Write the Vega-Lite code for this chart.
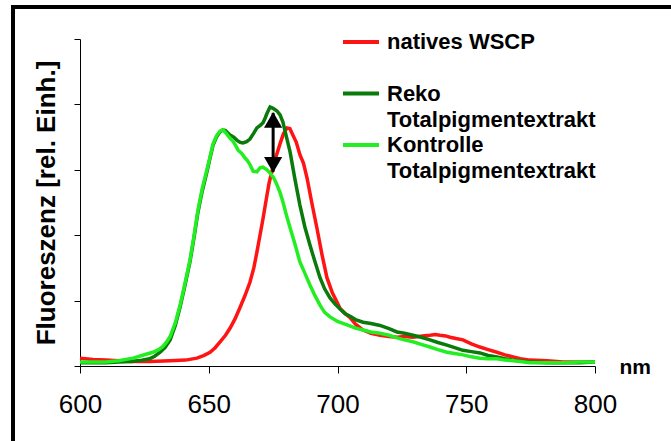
{
  "$schema": "https://vega.github.io/schema/vega-lite/v6.json",
  "width": 515,
  "height": 327,
  "autosize": {"type": "none"},
  "padding": {"left": 80, "top": 39, "right": 76, "bottom": 75},
  "background": "white",
  "config": {"view": {"stroke": null}, "font": "Liberation Sans", "style": {"guide-label": {"lineHeight": 26}}},
  "datasets": {
    "spectra": [
      {"s":"natives WSCP","nm":600,"v":0.12},{"s":"natives WSCP","nm":605,"v":0.10},{"s":"natives WSCP","nm":610,"v":0.09},{"s":"natives WSCP","nm":615,"v":0.08},{"s":"natives WSCP","nm":620,"v":0.07},{"s":"natives WSCP","nm":627,"v":0.07},{"s":"natives WSCP","nm":635,"v":0.08},{"s":"natives WSCP","nm":641,"v":0.09},{"s":"natives WSCP","nm":645.4,"v":0.12},{"s":"natives WSCP","nm":648,"v":0.16},{"s":"natives WSCP","nm":650.5,"v":0.21},{"s":"natives WSCP","nm":652.5,"v":0.28},{"s":"natives WSCP","nm":654.4,"v":0.37},{"s":"natives WSCP","nm":656.5,"v":0.47},{"s":"natives WSCP","nm":658.3,"v":0.58},{"s":"natives WSCP","nm":660.2,"v":0.72},{"s":"natives WSCP","nm":662.1,"v":0.89},{"s":"natives WSCP","nm":664,"v":1.07},{"s":"natives WSCP","nm":666,"v":1.28},{"s":"natives WSCP","nm":667.5,"v":1.50},{"s":"natives WSCP","nm":668.7,"v":1.74},{"s":"natives WSCP","nm":669.9,"v":2.00},{"s":"natives WSCP","nm":671.1,"v":2.26},{"s":"natives WSCP","nm":672.6,"v":2.61},{"s":"natives WSCP","nm":673.5,"v":2.81},{"s":"natives WSCP","nm":675,"v":3.05},{"s":"natives WSCP","nm":676.5,"v":3.25},{"s":"natives WSCP","nm":677.7,"v":3.40},{"s":"natives WSCP","nm":679,"v":3.55},{"s":"natives WSCP","nm":680.4,"v":3.64},{"s":"natives WSCP","nm":681.5,"v":3.63},{"s":"natives WSCP","nm":682.7,"v":3.53},{"s":"natives WSCP","nm":684,"v":3.42},{"s":"natives WSCP","nm":685.4,"v":3.23},{"s":"natives WSCP","nm":686.8,"v":3.10},{"s":"natives WSCP","nm":688.2,"v":2.87},{"s":"natives WSCP","nm":690,"v":2.50},{"s":"natives WSCP","nm":692,"v":2.11},{"s":"natives WSCP","nm":694,"v":1.70},{"s":"natives WSCP","nm":695.9,"v":1.35},{"s":"natives WSCP","nm":698,"v":1.12},{"s":"natives WSCP","nm":699.8,"v":0.98},{"s":"natives WSCP","nm":701,"v":0.88},{"s":"natives WSCP","nm":703,"v":0.80},{"s":"natives WSCP","nm":704.9,"v":0.74},{"s":"natives WSCP","nm":707,"v":0.64},{"s":"natives WSCP","nm":709.9,"v":0.55},{"s":"natives WSCP","nm":713,"v":0.50},{"s":"natives WSCP","nm":716.5,"v":0.47},{"s":"natives WSCP","nm":720,"v":0.45},{"s":"natives WSCP","nm":723.1,"v":0.44},{"s":"natives WSCP","nm":726,"v":0.45},{"s":"natives WSCP","nm":729.3,"v":0.44},{"s":"natives WSCP","nm":733,"v":0.46},{"s":"natives WSCP","nm":735.9,"v":0.47},{"s":"natives WSCP","nm":738,"v":0.48},{"s":"natives WSCP","nm":739.8,"v":0.47},{"s":"natives WSCP","nm":742,"v":0.46},{"s":"natives WSCP","nm":743.7,"v":0.44},{"s":"natives WSCP","nm":746,"v":0.42},{"s":"natives WSCP","nm":748.7,"v":0.40},{"s":"natives WSCP","nm":752,"v":0.34},{"s":"natives WSCP","nm":755.3,"v":0.29},{"s":"natives WSCP","nm":758.5,"v":0.25},{"s":"natives WSCP","nm":761.9,"v":0.21},{"s":"natives WSCP","nm":765,"v":0.17},{"s":"natives WSCP","nm":768.2,"v":0.14},{"s":"natives WSCP","nm":771,"v":0.11},{"s":"natives WSCP","nm":774.8,"v":0.09},{"s":"natives WSCP","nm":781.4,"v":0.08},{"s":"natives WSCP","nm":787.6,"v":0.06},{"s":"natives WSCP","nm":794,"v":0.06},{"s":"natives WSCP","nm":800,"v":0.06},
      {"s":"Reko Totalpigmentextrakt","nm":600,"v":0.05},{"s":"Reko Totalpigmentextrakt","nm":605,"v":0.05},{"s":"Reko Totalpigmentextrakt","nm":610,"v":0.05},{"s":"Reko Totalpigmentextrakt","nm":615,"v":0.06},{"s":"Reko Totalpigmentextrakt","nm":620,"v":0.07},{"s":"Reko Totalpigmentextrakt","nm":624,"v":0.09},{"s":"Reko Totalpigmentextrakt","nm":627,"v":0.11},{"s":"Reko Totalpigmentextrakt","nm":629,"v":0.15},{"s":"Reko Totalpigmentextrakt","nm":631.1,"v":0.21},{"s":"Reko Totalpigmentextrakt","nm":633,"v":0.28},{"s":"Reko Totalpigmentextrakt","nm":635,"v":0.40},{"s":"Reko Totalpigmentextrakt","nm":637,"v":0.62},{"s":"Reko Totalpigmentextrakt","nm":638.8,"v":0.89},{"s":"Reko Totalpigmentextrakt","nm":640.7,"v":1.22},{"s":"Reko Totalpigmentextrakt","nm":642.7,"v":1.59},{"s":"Reko Totalpigmentextrakt","nm":644.3,"v":1.97},{"s":"Reko Totalpigmentextrakt","nm":645.8,"v":2.35},{"s":"Reko Totalpigmentextrakt","nm":647.5,"v":2.68},{"s":"Reko Totalpigmentextrakt","nm":649.3,"v":2.97},{"s":"Reko Totalpigmentextrakt","nm":650.5,"v":3.18},{"s":"Reko Totalpigmentextrakt","nm":651.7,"v":3.38},{"s":"Reko Totalpigmentextrakt","nm":653,"v":3.50},{"s":"Reko Totalpigmentextrakt","nm":654.4,"v":3.58},{"s":"Reko Totalpigmentextrakt","nm":655.5,"v":3.61},{"s":"Reko Totalpigmentextrakt","nm":656.5,"v":3.60},{"s":"Reko Totalpigmentextrakt","nm":658.3,"v":3.53},{"s":"Reko Totalpigmentextrakt","nm":659.7,"v":3.50},{"s":"Reko Totalpigmentextrakt","nm":661,"v":3.45},{"s":"Reko Totalpigmentextrakt","nm":662.2,"v":3.42},{"s":"Reko Totalpigmentextrakt","nm":663.3,"v":3.41},{"s":"Reko Totalpigmentextrakt","nm":664.7,"v":3.43},{"s":"Reko Totalpigmentextrakt","nm":666,"v":3.47},{"s":"Reko Totalpigmentextrakt","nm":667.3,"v":3.55},{"s":"Reko Totalpigmentextrakt","nm":668.7,"v":3.64},{"s":"Reko Totalpigmentextrakt","nm":670,"v":3.68},{"s":"Reko Totalpigmentextrakt","nm":671.1,"v":3.72},{"s":"Reko Totalpigmentextrakt","nm":672,"v":3.80},{"s":"Reko Totalpigmentextrakt","nm":672.6,"v":3.86},{"s":"Reko Totalpigmentextrakt","nm":673.8,"v":3.96},{"s":"Reko Totalpigmentextrakt","nm":675,"v":3.94},{"s":"Reko Totalpigmentextrakt","nm":676.5,"v":3.90},{"s":"Reko Totalpigmentextrakt","nm":677.7,"v":3.84},{"s":"Reko Totalpigmentextrakt","nm":678.8,"v":3.73},{"s":"Reko Totalpigmentextrakt","nm":680.2,"v":3.50},{"s":"Reko Totalpigmentextrakt","nm":681.6,"v":3.27},{"s":"Reko Totalpigmentextrakt","nm":683.5,"v":2.85},{"s":"Reko Totalpigmentextrakt","nm":685.4,"v":2.46},{"s":"Reko Totalpigmentextrakt","nm":687.3,"v":2.13},{"s":"Reko Totalpigmentextrakt","nm":689.3,"v":1.85},{"s":"Reko Totalpigmentextrakt","nm":691.2,"v":1.60},{"s":"Reko Totalpigmentextrakt","nm":693.2,"v":1.35},{"s":"Reko Totalpigmentextrakt","nm":695,"v":1.18},{"s":"Reko Totalpigmentextrakt","nm":697.1,"v":1.04},{"s":"Reko Totalpigmentextrakt","nm":699,"v":0.95},{"s":"Reko Totalpigmentextrakt","nm":701,"v":0.87},{"s":"Reko Totalpigmentextrakt","nm":703,"v":0.80},{"s":"Reko Totalpigmentextrakt","nm":704.9,"v":0.76},{"s":"Reko Totalpigmentextrakt","nm":707,"v":0.71},{"s":"Reko Totalpigmentextrakt","nm":709.9,"v":0.67},{"s":"Reko Totalpigmentextrakt","nm":713,"v":0.65},{"s":"Reko Totalpigmentextrakt","nm":716.5,"v":0.62},{"s":"Reko Totalpigmentextrakt","nm":720,"v":0.57},{"s":"Reko Totalpigmentextrakt","nm":723.1,"v":0.52},{"s":"Reko Totalpigmentextrakt","nm":726,"v":0.50},{"s":"Reko Totalpigmentextrakt","nm":729.3,"v":0.47},{"s":"Reko Totalpigmentextrakt","nm":732.5,"v":0.44},{"s":"Reko Totalpigmentextrakt","nm":735.9,"v":0.40},{"s":"Reko Totalpigmentextrakt","nm":739,"v":0.36},{"s":"Reko Totalpigmentextrakt","nm":742.5,"v":0.32},{"s":"Reko Totalpigmentextrakt","nm":745.5,"v":0.28},{"s":"Reko Totalpigmentextrakt","nm":748.7,"v":0.24},{"s":"Reko Totalpigmentextrakt","nm":752,"v":0.22},{"s":"Reko Totalpigmentextrakt","nm":755.3,"v":0.20},{"s":"Reko Totalpigmentextrakt","nm":758.5,"v":0.16},{"s":"Reko Totalpigmentextrakt","nm":761.9,"v":0.14},{"s":"Reko Totalpigmentextrakt","nm":765,"v":0.11},{"s":"Reko Totalpigmentextrakt","nm":768.2,"v":0.09},{"s":"Reko Totalpigmentextrakt","nm":774.8,"v":0.06},{"s":"Reko Totalpigmentextrakt","nm":781.4,"v":0.05},{"s":"Reko Totalpigmentextrakt","nm":787.6,"v":0.05},{"s":"Reko Totalpigmentextrakt","nm":794,"v":0.05},{"s":"Reko Totalpigmentextrakt","nm":800,"v":0.06},
      {"s":"Kontrolle Totalpigmentextrakt","nm":600,"v":0.06},{"s":"Kontrolle Totalpigmentextrakt","nm":605,"v":0.06},{"s":"Kontrolle Totalpigmentextrakt","nm":610,"v":0.06},{"s":"Kontrolle Totalpigmentextrakt","nm":615,"v":0.08},{"s":"Kontrolle Totalpigmentextrakt","nm":620.6,"v":0.12},{"s":"Kontrolle Totalpigmentextrakt","nm":624,"v":0.16},{"s":"Kontrolle Totalpigmentextrakt","nm":628.3,"v":0.21},{"s":"Kontrolle Totalpigmentextrakt","nm":630.5,"v":0.25},{"s":"Kontrolle Totalpigmentextrakt","nm":632.2,"v":0.30},{"s":"Kontrolle Totalpigmentextrakt","nm":633.5,"v":0.36},{"s":"Kontrolle Totalpigmentextrakt","nm":635,"v":0.45},{"s":"Kontrolle Totalpigmentextrakt","nm":637,"v":0.66},{"s":"Kontrolle Totalpigmentextrakt","nm":638.8,"v":0.92},{"s":"Kontrolle Totalpigmentextrakt","nm":640.7,"v":1.25},{"s":"Kontrolle Totalpigmentextrakt","nm":642.7,"v":1.62},{"s":"Kontrolle Totalpigmentextrakt","nm":644.3,"v":2.00},{"s":"Kontrolle Totalpigmentextrakt","nm":645.8,"v":2.38},{"s":"Kontrolle Totalpigmentextrakt","nm":647.5,"v":2.72},{"s":"Kontrolle Totalpigmentextrakt","nm":649.3,"v":3.00},{"s":"Kontrolle Totalpigmentextrakt","nm":650.5,"v":3.20},{"s":"Kontrolle Totalpigmentextrakt","nm":651.7,"v":3.40},{"s":"Kontrolle Totalpigmentextrakt","nm":653,"v":3.52},{"s":"Kontrolle Totalpigmentextrakt","nm":654.4,"v":3.59},{"s":"Kontrolle Totalpigmentextrakt","nm":655.5,"v":3.61},{"s":"Kontrolle Totalpigmentextrakt","nm":656.5,"v":3.57},{"s":"Kontrolle Totalpigmentextrakt","nm":657.5,"v":3.52},{"s":"Kontrolle Totalpigmentextrakt","nm":658.3,"v":3.48},{"s":"Kontrolle Totalpigmentextrakt","nm":659.4,"v":3.44},{"s":"Kontrolle Totalpigmentextrakt","nm":660.3,"v":3.38},{"s":"Kontrolle Totalpigmentextrakt","nm":661.4,"v":3.30},{"s":"Kontrolle Totalpigmentextrakt","nm":662.8,"v":3.25},{"s":"Kontrolle Totalpigmentextrakt","nm":664.1,"v":3.18},{"s":"Kontrolle Totalpigmentextrakt","nm":665,"v":3.14},{"s":"Kontrolle Totalpigmentextrakt","nm":666,"v":3.08},{"s":"Kontrolle Totalpigmentextrakt","nm":667.2,"v":2.98},{"s":"Kontrolle Totalpigmentextrakt","nm":668.7,"v":2.97},{"s":"Kontrolle Totalpigmentextrakt","nm":669.9,"v":3.03},{"s":"Kontrolle Totalpigmentextrakt","nm":671.1,"v":3.04},{"s":"Kontrolle Totalpigmentextrakt","nm":672.6,"v":3.00},{"s":"Kontrolle Totalpigmentextrakt","nm":673.8,"v":2.95},{"s":"Kontrolle Totalpigmentextrakt","nm":675.2,"v":2.88},{"s":"Kontrolle Totalpigmentextrakt","nm":676.5,"v":2.77},{"s":"Kontrolle Totalpigmentextrakt","nm":677.7,"v":2.65},{"s":"Kontrolle Totalpigmentextrakt","nm":678.8,"v":2.51},{"s":"Kontrolle Totalpigmentextrakt","nm":680.2,"v":2.30},{"s":"Kontrolle Totalpigmentextrakt","nm":681.6,"v":2.11},{"s":"Kontrolle Totalpigmentextrakt","nm":683.5,"v":1.86},{"s":"Kontrolle Totalpigmentextrakt","nm":685.4,"v":1.59},{"s":"Kontrolle Totalpigmentextrakt","nm":687.3,"v":1.42},{"s":"Kontrolle Totalpigmentextrakt","nm":689.3,"v":1.24},{"s":"Kontrolle Totalpigmentextrakt","nm":691.2,"v":1.08},{"s":"Kontrolle Totalpigmentextrakt","nm":693.2,"v":0.93},{"s":"Kontrolle Totalpigmentextrakt","nm":695,"v":0.82},{"s":"Kontrolle Totalpigmentextrakt","nm":697.1,"v":0.75},{"s":"Kontrolle Totalpigmentextrakt","nm":700,"v":0.68},{"s":"Kontrolle Totalpigmentextrakt","nm":703.7,"v":0.63},{"s":"Kontrolle Totalpigmentextrakt","nm":707,"v":0.58},{"s":"Kontrolle Totalpigmentextrakt","nm":709.9,"v":0.55},{"s":"Kontrolle Totalpigmentextrakt","nm":713,"v":0.52},{"s":"Kontrolle Totalpigmentextrakt","nm":716.5,"v":0.50},{"s":"Kontrolle Totalpigmentextrakt","nm":720,"v":0.47},{"s":"Kontrolle Totalpigmentextrakt","nm":723.1,"v":0.43},{"s":"Kontrolle Totalpigmentextrakt","nm":726,"v":0.40},{"s":"Kontrolle Totalpigmentextrakt","nm":729.3,"v":0.37},{"s":"Kontrolle Totalpigmentextrakt","nm":732.5,"v":0.33},{"s":"Kontrolle Totalpigmentextrakt","nm":735.9,"v":0.29},{"s":"Kontrolle Totalpigmentextrakt","nm":739,"v":0.25},{"s":"Kontrolle Totalpigmentextrakt","nm":742.5,"v":0.21},{"s":"Kontrolle Totalpigmentextrakt","nm":745.5,"v":0.19},{"s":"Kontrolle Totalpigmentextrakt","nm":748.7,"v":0.17},{"s":"Kontrolle Totalpigmentextrakt","nm":752,"v":0.14},{"s":"Kontrolle Totalpigmentextrakt","nm":755.3,"v":0.12},{"s":"Kontrolle Totalpigmentextrakt","nm":758.5,"v":0.11},{"s":"Kontrolle Totalpigmentextrakt","nm":761.9,"v":0.11},{"s":"Kontrolle Totalpigmentextrakt","nm":765,"v":0.09},{"s":"Kontrolle Totalpigmentextrakt","nm":768.2,"v":0.08},{"s":"Kontrolle Totalpigmentextrakt","nm":771,"v":0.07},{"s":"Kontrolle Totalpigmentextrakt","nm":774.8,"v":0.05},{"s":"Kontrolle Totalpigmentextrakt","nm":781.4,"v":0.05},{"s":"Kontrolle Totalpigmentextrakt","nm":787.6,"v":0.05},{"s":"Kontrolle Totalpigmentextrakt","nm":794,"v":0.06},{"s":"Kontrolle Totalpigmentextrakt","nm":800,"v":0.06}
    ],
    "arrow": [{"nm": 675, "top": 3.87, "bottom": 2.97}]
  },
  "layer": [
    {
      "data": {"values": [{}]},
      "mark": {"type": "rule", "color": "black", "strokeWidth": 4, "clip": false},
      "encoding": {"x": {"value": -67}, "y": {"value": -34}, "y2": {"value": 402}}
    },
    {
      "data": {"values": [{}]},
      "mark": {"type": "rule", "color": "black", "strokeWidth": 4, "clip": false},
      "encoding": {"y": {"value": -32}, "x": {"value": -69}, "x2": {"value": 591}}
    },
    {
      "data": {"name": "spectra"},
      "mark": {"type": "line", "strokeWidth": 3.5},
      "encoding": {
        "x": {"field": "nm", "type": "quantitative",
          "scale": {"domain": [600, 800], "nice": false},
          "axis": {"title": "nm", "values": [600, 650, 700, 750, 800], "grid": false, "labelFlush": false,
            "tickSize": 7, "tickColor": "black", "domainColor": "black",
            "labelFontSize": 26, "labelColor": "black", "labelPadding": 18, "labelFont": "Liberation Sans",
            "titleFontSize": 21, "titleFontWeight": "bold", "titleColor": "black", "titleFont": "Liberation Sans",
            "titleX": 539, "titleY": 1, "titleAlign": "left", "titleBaseline": "middle", "titleAnchor": "start"}},
        "y": {"field": "v", "type": "quantitative",
          "scale": {"domain": [0, 5], "nice": false},
          "axis": {"title": "Fluoreszenz [rel. Einh.]", "labels": false, "values": [0, 1, 2, 3, 4, 5], "grid": false,
            "tickSize": 6, "tickColor": "black", "domainColor": "black",
            "titleFontSize": 26, "titleFontWeight": "bold", "titleColor": "black", "titleFont": "Liberation Sans", "titlePadding": 14}},
        "color": {"field": "s", "type": "nominal",
          "scale": {"domain": ["natives WSCP", "Reko Totalpigmentextrakt", "Kontrolle Totalpigmentextrakt"], "range": ["#ff1414", "#0a7a0a", "#22ee22"]},
          "legend": {"title": null, "orient": "none", "legendX": 270, "legendY": -8, "padding": 0, "rowPadding": 3.5,
            "symbolType": "M-3.6,0H3.6", "symbolSize": 100, "symbolStrokeWidth": 4,
            "labelFontSize": 22, "labelFontWeight": "bold", "labelColor": "black", "labelFont": "Liberation Sans",
            "labelOffset": 15, "labelLimit": 400,
            "labelExpr": "datum.label == 'natives WSCP' ? ['natives WSCP', ' '] : split(datum.label, ' ')"}}
      }
    },
    {
      "data": {"name": "arrow"},
      "mark": {"type": "rule", "color": "black", "strokeWidth": 3},
      "encoding": {"x": {"field": "nm", "type": "quantitative"}, "y": {"field": "top", "type": "quantitative"}, "y2": {"field": "bottom"}}
    },
    {
      "data": {"name": "arrow"},
      "mark": {"type": "point", "shape": "triangle-up", "filled": true, "color": "black", "opacity": 1, "size": 330, "yOffset": 7},
      "encoding": {"x": {"field": "nm", "type": "quantitative"}, "y": {"field": "top", "type": "quantitative"}}
    },
    {
      "data": {"name": "arrow"},
      "mark": {"type": "point", "shape": "triangle-down", "filled": true, "color": "black", "opacity": 1, "size": 330, "yOffset": -7},
      "encoding": {"x": {"field": "nm", "type": "quantitative"}, "y": {"field": "bottom", "type": "quantitative"}}
    }
  ]
}
